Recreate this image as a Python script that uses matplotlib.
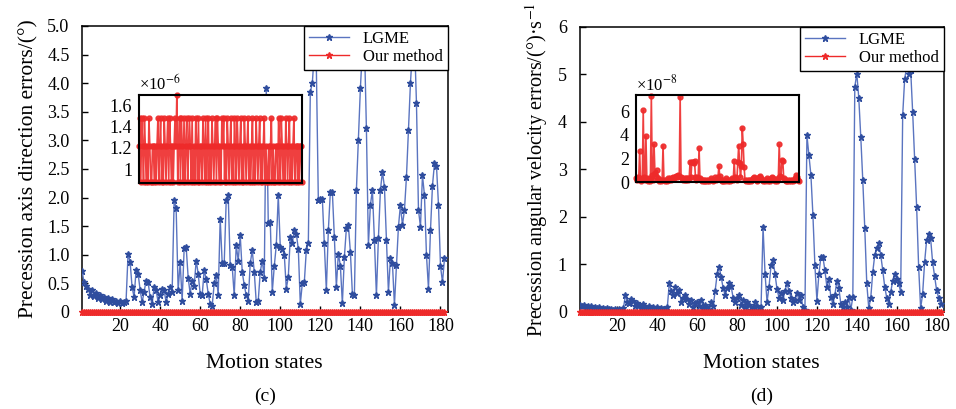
import matplotlib
matplotlib.use("Agg")
import matplotlib.pyplot as plt
import numpy as np

plt.rcParams['font.family'] = ['Liberation Serif', 'DejaVu Serif']
plt.rcParams['mathtext.fontset'] = 'stix'

# (c) precession axis direction errors, LGME
lgme_dir = [
    0.72, 0.52, 0.45, 0.40, 0.30, 0.38, 0.28, 0.33, 0.24, 0.30,
    0.22, 0.27, 0.20, 0.24, 0.18, 0.22, 0.17, 0.20, 0.16, 0.19,
    0.15, 0.18, 0.20, 1.02, 0.88, 0.43, 0.26, 0.73, 0.67, 0.39,
    0.17, 0.35, 0.55, 0.52, 0.26, 0.14, 0.43, 0.38, 0.17, 0.30,
    0.41, 0.38, 0.17, 0.32, 0.44, 0.35, 1.95, 1.81, 0.38, 0.87,
    0.20, 1.11, 1.14, 0.60, 0.32, 0.55, 0.45, 0.90, 0.67, 0.32,
    0.29, 0.73, 0.58, 0.32, 0.14, 0.11, 0.50, 0.64, 0.30, 1.63,
    0.85, 0.85, 1.95, 2.04, 0.82, 0.79, 0.29, 1.17, 0.90, 1.34,
    0.70, 0.47, 0.29, 0.20, 0.85, 1.08, 0.70, 0.17, 0.20, 0.70,
    0.90, 0.60, 3.91, 1.55, 1.58, 0.35, 0.80, 1.17, 2.04, 1.14,
    1.10, 1.00, 0.41, 0.61, 1.31, 1.20, 1.43, 1.37, 1.10, 0.14,
    0.50, 0.52, 1.08, 1.20, 3.85, 4.00, 4.55, 4.30, 1.95, 1.98,
    1.98, 1.20, 0.38, 1.43, 2.10, 2.10, 1.31, 0.44, 1.02, 0.81,
    0.15, 0.96, 1.46, 1.52, 1.05, 0.32, 0.29, 2.13, 3.00, 3.91,
    4.60, 4.75, 3.21, 1.17, 1.87, 2.13, 1.26, 0.29, 1.29, 2.13,
    2.45, 2.19, 1.26, 0.35, 0.94, 0.85, 0.12, 0.82, 1.49, 1.87,
    1.52, 1.78, 2.36, 3.18, 4.00, 4.60, 4.80, 3.65, 1.78, 1.49,
    2.39, 2.04, 0.99, 0.41, 1.43, 2.21, 2.60, 2.55, 1.87, 0.80,
    0.52, 0.94,
]

# (c) our method, in units of 1e-6 degrees
ours_dir = [
    1.22, 1.48, 0.88, 1.48, 1.22, 0.88, 1.48, 1.22, 0.88, 1.22,
    0.88, 1.48, 1.22, 0.88, 0.88, 1.22, 1.22, 0.88, 1.22, 0.88,
    1.22, 1.48, 0.88, 1.22, 1.48, 0.88, 1.22, 0.88, 1.48, 1.22,
    0.88, 1.22, 1.48, 0.88, 1.48, 1.22, 0.88, 1.22, 0.88, 1.22,
    1.48, 1.22, 1.70, 0.88, 1.22, 1.48, 0.88, 1.48, 1.22, 0.88,
    1.48, 0.88, 1.22, 1.48, 0.88, 1.22, 1.48, 1.22, 0.88, 1.48,
    0.88, 1.22, 0.88, 1.48, 1.22, 0.88, 1.48, 0.88, 1.22, 1.22,
    0.88, 1.48, 1.22, 0.88, 1.48, 0.88, 1.22, 1.48, 0.88, 1.22,
    0.88, 1.48, 1.22, 0.88, 1.22, 1.48, 0.88, 1.48, 1.22, 0.88,
    1.22, 0.88, 1.48, 1.22, 1.48, 0.88, 1.22, 0.88, 1.48, 1.22,
    0.88, 1.22, 1.48, 0.88, 1.22, 0.88, 1.48, 1.22, 0.88, 1.48,
    1.22, 0.88, 1.22, 1.48, 0.88, 1.22, 0.88, 1.48, 1.22, 0.88,
    1.22, 1.48, 0.88, 1.22, 0.88, 1.22, 1.48, 0.88, 1.22, 0.88,
    1.48, 1.22, 0.88, 1.22, 1.48, 0.88, 1.22, 0.88, 1.22, 1.48,
    0.88, 1.22, 0.88, 0.88, 1.22, 0.88, 1.22, 1.48, 0.88, 1.22,
    0.88, 0.88, 1.22, 1.22, 0.88, 1.48, 1.22, 0.88, 1.48, 1.22,
    0.88, 1.22, 0.88, 1.48, 1.22, 0.88, 1.22, 1.48, 0.88, 1.22,
    0.88, 1.22, 1.48, 0.88, 1.22, 1.22, 0.88, 1.22, 0.88, 1.22,
    1.22, 0.88,
]

# (d) precession angular velocity errors, LGME
lgme_vel = [
    0.15, 0.12, 0.14, 0.10, 0.13, 0.09, 0.12, 0.08, 0.11, 0.08,
    0.10, 0.07, 0.09, 0.06, 0.08, 0.06, 0.07, 0.05, 0.07, 0.05,
    0.06, 0.05, 0.08, 0.35, 0.22, 0.18, 0.28, 0.24, 0.12, 0.18,
    0.14, 0.09, 0.16, 0.10, 0.07, 0.13, 0.08, 0.10, 0.06, 0.11,
    0.05, 0.08, 0.06, 0.05, 0.10, 0.60, 0.45, 0.35, 0.52, 0.40,
    0.46, 0.20, 0.30, 0.35, 0.28, 0.16, 0.25, 0.10, 0.18, 0.20,
    0.12, 0.25, 0.08, 0.15, 0.10, 0.05, 0.20, 0.12, 0.45, 0.80,
    0.95, 0.74, 0.50, 0.35, 0.50, 0.60, 0.54, 0.30, 0.20, 0.30,
    0.35, 0.15, 0.25, 0.10, 0.20, 0.15, 0.05, 0.10, 0.20, 0.12,
    0.05, 0.10, 1.79, 0.81, 0.21, 0.53, 0.98, 1.09, 0.80, 0.48,
    0.30, 0.40, 0.25, 0.45, 0.60, 0.45, 0.30, 0.20, 0.25, 0.40,
    0.25, 0.35, 0.10, 0.05, 3.72, 3.30, 2.88, 2.04, 0.98, 0.24,
    0.80, 1.16, 1.16, 0.88, 0.53, 0.70, 0.31, 0.17, 0.35, 0.66,
    0.50, 0.17, 0.10, 0.20, 0.10, 0.31, 0.05, 0.31, 4.74, 5.02,
    4.50, 3.68, 2.77, 1.76, 0.60, 0.08, 0.30, 0.84, 1.20, 1.34,
    1.45, 1.20, 0.88, 0.53, 0.30, 0.17, 0.42, 0.66, 0.80, 0.70,
    0.60, 0.42, 4.14, 4.91, 5.15, 5.00, 5.10, 4.21, 3.23, 2.21,
    0.95, 0.08, 0.38, 1.05, 1.51, 1.65, 1.55, 1.05, 0.75, 0.46,
    0.30, 0.17,
]

# (d) our method, in units of 1e-8 deg/s
ours_vel = [
    0.30, 0.20, 0.40, 0.30, 2.65, 0.20, 0.10, 0.30, 6.10, 0.40,
    0.20, 3.90, 0.30, 0.10, 0.20, 0.10, 0.30, 7.30, 0.60, 0.20,
    3.20, 0.80, 0.50, 1.00, 0.30, 0.20, 0.10, 0.20, 0.10, 0.20,
    3.08, 0.20, 0.10, 0.20, 0.10, 0.20, 0.30, 0.20, 0.30, 0.20,
    0.30, 0.40, 0.30, 0.40, 0.50, 0.40, 0.50, 0.60, 0.50, 7.20,
    0.40, 0.30, 0.20, 0.30, 0.20, 0.30, 0.20, 0.30, 0.20, 0.30,
    1.70, 0.40, 1.70, 1.70, 1.60, 1.75, 0.40, 0.20, 0.40, 0.30,
    2.90, 0.30, 0.20, 0.10, 0.20, 0.10, 0.20, 0.10, 0.20, 0.10,
    0.20, 0.10, 0.20, 0.30, 0.20, 0.10, 0.20, 0.20, 0.40, 0.20,
    0.30, 0.40, 1.33, 0.50, 0.20, 0.10, 0.20, 0.10, 0.20, 0.10,
    0.30, 0.20, 0.10, 0.20, 0.10, 0.20, 0.20, 0.30, 0.20, 1.80,
    0.40, 0.30, 0.20, 1.70, 3.10, 1.60, 0.40, 1.40, 4.60, 3.20,
    1.30, 0.20, 0.10, 0.20, 0.10, 0.20, 0.10, 0.20, 0.10, 0.20,
    0.30, 0.40, 0.30, 0.20, 0.10, 0.20, 0.30, 0.40, 0.55, 0.30,
    0.20, 0.10, 0.20, 0.10, 0.20, 0.30, 0.20, 0.10, 0.20, 0.10,
    0.30, 0.40, 0.30, 0.20, 0.10, 0.20, 0.10, 0.20, 0.30, 3.20,
    0.50, 0.40, 1.90, 1.80, 0.30, 0.20, 0.10, 0.20, 0.10, 0.20,
    0.10, 0.20, 0.10, 0.20, 0.10, 0.20, 0.30, 0.20, 0.60, 0.40,
    0.20, 0.10,
]

x_ticks = [20, 40, 60, 80, 100, 120, 140, 160, 180]
dir_ticks = [0, 0.5, 1.0, 1.5, 2.0, 2.5, 3.0, 3.5, 4.0, 4.5, 5.0]
vel_ticks = [0, 1, 2, 3, 4, 5, 6]

blue_line = '#5a74c0'
blue_mk = '#2f4d9e'
red = '#ee2a2a'

fig = plt.figure(figsize=(9.56, 4.09), dpi=100)


def style_axes(ax, fs=13):
    for s in ax.spines.values():
        s.set_linewidth(1.1)
        s.set_color('black')
    ax.tick_params(direction='in', length=4, width=1, labelsize=fs,
                   top=False, right=False)
    ax.tick_params(axis='y', pad=9)
    ax.tick_params(axis='x', pad=4)


def main_panel(rect, lgme, ours, scale, yticks, ylabels, ylim, ylabel, tag,
               ylabel_size=15.5):
    ax = fig.add_axes(rect)
    x = np.arange(1, len(lgme) + 1)
    ax.plot(x, lgme, '-', color=blue_line, lw=1.0, marker='*', ms=5,
            mfc=blue_mk, mec=blue_mk, label='LGME', zorder=3)
    xo = np.arange(1, len(ours) + 1)
    ax.plot(xo, np.array(ours) * scale, '-', color=red, lw=1.0, marker='*',
            ms=5, mfc=red, mec=red, label='Our method', zorder=4,
            clip_on=False)
    ax.set_xlim(1, 183.5)
    ax.set_ylim(*ylim)
    ax.set_xticks(x_ticks)
    ax.set_yticks(yticks)
    ax.set_yticklabels(ylabels)
    style_axes(ax)
    ax.set_xlabel('Motion states', fontsize=15.5, labelpad=14)
    ax.set_ylabel(ylabel, fontsize=ylabel_size, labelpad=6)
    leg = ax.legend(loc='upper right', fontsize=12, fancybox=False,
                    borderaxespad=0, framealpha=1, edgecolor='black',
                    handlelength=2.4, borderpad=0.3, labelspacing=0.1)
    leg.get_frame().set_linewidth(1.0)
    leg.set_zorder(10)
    fig.text(rect[0] + rect[2] / 2, 0.02, tag, ha='center', fontsize=14)
    return ax


def inset(rect, vals, ylim, yticks, ylabels, mult):
    ax = fig.add_axes(rect)
    x = np.arange(1, len(vals) + 1)
    ax.plot(x, vals, '-', color=red, lw=1.2, marker='o', ms=3.5,
            mfc=red, mec=red, alpha=0.9, clip_on=False)
    ax.set_xlim(1, len(vals))
    ax.set_ylim(*ylim)
    ax.set_xticks([])
    ax.set_yticks(yticks)
    ax.set_yticklabels(ylabels)
    for s in ax.spines.values():
        s.set_linewidth(1.5)
    ax.tick_params(axis='y', length=0, labelsize=13, pad=5)
    ax.text(0.0, 1.01, mult, transform=ax.transAxes, fontsize=12,
            ha='left', va='bottom')
    ax.set_zorder(5)
    return ax


main_panel([0.0858, 0.2372, 0.3823, 0.6993], lgme_dir, ours_dir, 1e-6,
           dir_ticks, ['0'] + ['%.1f' % t for t in dir_ticks[1:]], (0, 5.0),
           'Precession axis direction errors/(°)', '(c)')
main_panel([0.6062, 0.2372, 0.3808, 0.6968], lgme_vel, ours_vel, 1e-8,
           vel_ticks, [str(t) for t in vel_ticks], (0, 6),
           'Precession angular velocity errors/(°)·s$^{-1}$', '(d)',
           ylabel_size=14.6)

inset([0.1454, 0.5526, 0.1705, 0.2152], ours_dir, (0.87, 1.70),
      [1.0, 1.2, 1.4, 1.6], ['1', '1.2', '1.4', '1.6'], '×10$^{-6}$')
inset([0.6653, 0.5550, 0.1705, 0.2127], ours_vel, (0, 7.4),
      [0, 2, 4, 6], ['0', '2', '4', '6'], '×10$^{-8}$')

fig.savefig('out.png', dpi=100)
